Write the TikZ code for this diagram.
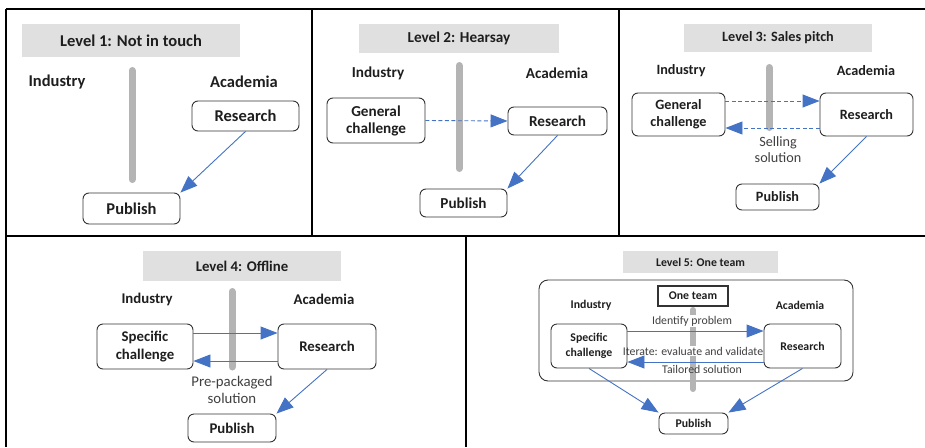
\documentclass[tikz,border=0pt]{standalone}
\usepackage{fontspec}
\setmainfont{Carlito}
\usetikzlibrary{arrows.meta}

\definecolor{titlegray}{HTML}{E0E0E0}
\definecolor{bargray}{HTML}{B4B4B4}
\definecolor{flowblue}{HTML}{4472C4}
\definecolor{inktext}{HTML}{1E1E1E}
\definecolor{notetext}{HTML}{404040}
\definecolor{boxline}{HTML}{333333}

\tikzset{
  frame/.style={line width=1.2pt, black},
  titlebox/.style={fill=titlegray, inner sep=0pt, text=inktext},
  side/.style={inner sep=0pt, text=inktext},
  stage/.style={draw=boxline, line width=0.9pt, rounded corners=6pt, fill=white,
                inner sep=0pt, align=center, text=inktext},
  note/.style={inner sep=0pt, align=center, text=notetext},
  divider/.style={line width=7pt, bargray, line cap=round},
  flow/.style={flowblue, line width=0.9pt, -{Triangle[length=17pt,width=13pt]}},
  dflow/.style={flow, dash pattern=on 4pt off 2.5pt},
  fA/.style={font=\fontsize{16.5}{19}\selectfont\bfseries},
  fB/.style={font=\fontsize{15.2}{17}\selectfont\bfseries},
  fC/.style={font=\fontsize{14.2}{17}\selectfont\bfseries},
  fD/.style={font=\fontsize{14.8}{18}\selectfont\bfseries},
  fE/.style={font=\fontsize{11.8}{15}\selectfont\bfseries},
}

\begin{document}
\begin{tikzpicture}[x=1pt, y=-1pt]
\useasboundingbox (0,0) rectangle (925,447);

% table rules
\draw[frame] (6,9) -- (925,9);
\draw[frame] (6,9) -- (6,447);
\draw[frame] (312,9) -- (312,236);
\draw[frame] (619,9) -- (619,236);
\draw[frame] (6,236) -- (925,236);
\draw[frame] (466,236) -- (466,447);

% ---------- Level 1 ----------
\begin{scope}[every node/.append style={fA}]
  \node[titlebox, minimum width=218pt, minimum height=33pt] (t1) at (131,40.5) {Level 1: Not in touch};
  \node[side] (ind1) at (57,82) {Industry};
  \node[side] (aca1) at (244,82) {Academia};
  \coordinate (b1top) at (132,70.5);
  \coordinate (b1bot) at (132,179.5);
  \draw[divider] (b1top) -- (b1bot);
  \node[stage, minimum width=107pt, minimum height=30pt] (res1) at (245.5,116) {Research};
  \node[stage, minimum width=97pt, minimum height=31pt] (pub1) at (131.5,208.5) {Publish};
  \draw[flow] (res1.south) -- (pub1.north east);
\end{scope}

% ---------- Level 2 ----------
\begin{scope}[every node/.append style={fB}]
  \node[titlebox, minimum width=200pt, minimum height=29pt] (t2) at (459,38.5) {Level 2: Hearsay};
  \node[side] (ind2) at (378,73) {Industry};
  \node[side] (aca2) at (557,73) {Academia};
  \coordinate (b2top) at (459,65.5);
  \coordinate (b2bot) at (459,168.5);
  \draw[divider] (b2top) -- (b2bot);
  \node[stage, minimum width=98pt, minimum height=45pt] (gen2) at (376,120.5) {General\\challenge};
  \node[stage, minimum width=99pt, minimum height=28pt] (res2) at (557.5,121) {Research};
  \node[stage, minimum width=87pt, minimum height=28pt] (pub2) at (463.5,203) {Publish};
  \draw[dflow] (gen2.east) -- (res2.west);
  \draw[flow] (res2.south) -- (pub2.north east);
\end{scope}

% ---------- Level 3 ----------
\begin{scope}[every node/.append style={fC}]
  \node[titlebox, minimum width=188pt, minimum height=28pt] (t3) at (778,38) {Level 3: Sales pitch};
  \node[side] (ind3) at (681,71) {Industry};
  \node[side] (aca3) at (866,71) {Academia};
  \coordinate (b3top) at (769,67.5);
  \coordinate (b3bot) at (769,127.5);
  \draw[divider] (b3top) -- (b3bot);
  \node[stage, minimum width=93pt, minimum height=43pt] (gen3) at (678.5,114.5) {General\\challenge};
  \node[stage, minimum width=93pt, minimum height=43pt] (res3) at (866.5,114.5) {Research};
  \node[note, font=\fontsize{14.2}{16}\selectfont] (sell3) at (778,150) {Selling\\solution};
  \node[stage, minimum width=83pt, minimum height=26pt] (pub3) at (777.5,197) {Publish};
  \draw[dflow] ([yshift=13.5pt]gen3.east) -- ([yshift=13.5pt]res3.west);
  \draw[dflow] ([yshift=-13.5pt]res3.west) -- ([yshift=-13.5pt]gen3.east);
  \draw[flow] (res3.south) -- (pub3.north east);
\end{scope}

% ---------- Level 4 ----------
\begin{scope}[every node/.append style={fD}]
  \node[titlebox, minimum width=198pt, minimum height=30pt] (t4) at (242,266) {Level 4: Offline};
  \node[side] (ind4) at (147,299) {Industry};
  \node[side] (aca4) at (324,299) {Academia};
  \coordinate (b4top) at (232,291.5);
  \coordinate (b4bot) at (232,367);
  \draw[divider] (b4top) -- (b4bot);
  \node[stage, minimum width=96pt, minimum height=45pt] (spc4) at (145,346.5) {Specific\\challenge};
  \node[stage, minimum width=98pt, minimum height=45pt] (res4) at (327,346.5) {Research};
  \node[note, font=\fontsize{14.8}{17}\selectfont] (pre4) at (232,389.5) {Pre-packaged\\solution};
  \node[stage, minimum width=88pt, minimum height=28pt] (pub4) at (232,428) {Publish};
  \draw[flow] ([yshift=13.5pt]spc4.east) -- ([yshift=13.5pt]res4.west);
  \draw[flow] ([yshift=-14.5pt]res4.west) -- ([yshift=-14.5pt]spc4.east);
  \draw[flow] (res4.south) -- (pub4.north east);
\end{scope}

% ---------- Level 5 ----------
\begin{scope}[every node/.append style={fE}]
  \node[titlebox, minimum width=155pt, minimum height=22pt] (t5) at (700.5,262) {Level 5: One team};
  \node[draw=boxline, line width=0.9pt, rounded corners=9pt, inner sep=0pt,
        minimum width=314pt, minimum height=101pt] (team5) at (696,330.5) {};
  \node[draw=boxline, line width=1.2pt, fill=white, inner sep=0pt, text=inktext,
        minimum width=70pt, minimum height=20pt] (one5) at (693,296) {One team};
  \node[side] (ind5) at (591,305) {Industry};
  \node[side] (aca5) at (800,305) {Academia};
  \coordinate (b5top) at (693,310);
  \coordinate (b5bot) at (693,389);
  \draw[divider, line width=6pt] (b5top) -- (b5bot);
  \node[note, fill=white, inner sep=0.5pt, font=\fontsize{11.8}{14}\selectfont] (idp5) at (692,321) {Identify problem};
  \node[note, fill=white, inner sep=0.5pt, font=\fontsize{11.8}{14}\selectfont] (itr5) at (693,351) {Iterate: evaluate and validate};
  \node[note, font=\fontsize{11.8}{14}\selectfont] (tai5) at (702,369) {Tailored solution};
  \node[stage, fill=none, minimum width=76pt, minimum height=44pt] (spc5) at (589,346) {Specific\\challenge};
  \node[stage, fill=none, minimum width=77pt, minimum height=44pt] (res5) at (802.5,346) {Research};
  \node[stage, minimum width=69pt, minimum height=21pt] (pub5) at (693.5,423.5) {Publish};
  \draw[flow] ([yshift=15pt]spc5.east) -- ([yshift=15pt]res5.west);
  \draw[flow] ([yshift=-16pt]res5.west) -- ([yshift=-16pt]spc5.east);
  \draw[flow] (spc5.south) -- (pub5.north west);
  \draw[flow] (res5.south) -- (pub5.north east);
\end{scope}
\end{tikzpicture}
\end{document}
